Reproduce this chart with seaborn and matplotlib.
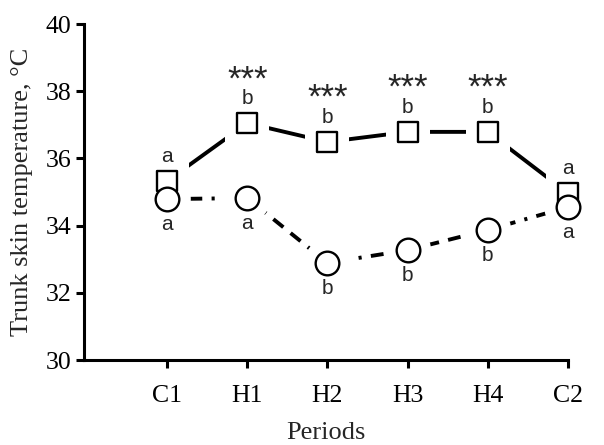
import numpy as np
import matplotlib
matplotlib.use("Agg")
import matplotlib.pyplot as plt
import seaborn as sns

# --- data ---
periods = ["C1", "H1", "H2", "H3", "H4", "C2"]
square_vals = [35.33, 37.05, 36.49, 36.79, 36.79, 34.97]
circle_vals = [34.79, 34.82, 32.89, 33.27, 33.87, 34.55]
square_letters = ["a", "b", "b", "b", "b", "a"]
circle_letters = ["a", "a", "b", "b", "b", "a"]
stars = ["", "***", "***", "***", "***", ""]

sns.set_theme(style="ticks")
plt.rcParams["font.family"] = ["Liberation Serif", "DejaVu Serif"]

fig = plt.figure(figsize=(6.04, 4.45), dpi=100)
ax = fig.add_axes([0.139, 0.191, 0.801, 0.755])

x = np.arange(len(periods))

# lines
sns.lineplot(x=x, y=square_vals, ax=ax, color="black", linewidth=2.8,
             linestyle="-", zorder=1)
sns.lineplot(x=x, y=circle_vals, ax=ax, color="black", linewidth=2.8,
             linestyle=(0, (3.3, 2.4, 3.3, 2.4, 0.8, 2.4)), zorder=1)

# white halo so the lines stop short of the markers
ax.scatter(x, square_vals, marker="s", s=1000, facecolor="white",
           edgecolor="none", zorder=2, clip_on=False)
ax.scatter(x, circle_vals, marker="o", s=1150, facecolor="white",
           edgecolor="none", zorder=2, clip_on=False)

# markers
sns.scatterplot(x=x, y=square_vals, ax=ax, marker="s", s=215, color="white",
                edgecolor="black", linewidth=1.7, zorder=3, clip_on=False)
sns.scatterplot(x=x, y=circle_vals, ax=ax, marker="o", s=290, color="white",
                edgecolor="black", linewidth=1.7, zorder=4, clip_on=False)

# significance letters
for i in range(len(periods)):
    ax.annotate(square_letters[i], (x[i], square_vals[i]), xytext=(0, 17.5),
                textcoords="offset points", ha="center", va="center",
                fontsize=15, family=["Liberation Sans"], zorder=5)
    ax.annotate(circle_letters[i], (x[i], circle_vals[i]), xytext=(0, -18.5),
                textcoords="offset points", ha="center", va="center",
                fontsize=15, family=["Liberation Sans"], zorder=5)
    if stars[i]:
        ax.annotate(stars[i], (x[i], square_vals[i]), xytext=(0, 24.5),
                    textcoords="offset points", ha="center", va="baseline",
                    fontsize=25, family=["Liberation Sans"], zorder=5)

ax.set_xlim(-1.04, 5)
ax.set_ylim(30, 40)
ax.set_yticks([30, 32, 34, 36, 38, 40])
ax.set_xticks(x)
ax.set_xticklabels(periods)
ax.tick_params(axis="both", direction="out", length=6, width=2.2,
               colors="black", labelsize=18.5, pad=3)
ax.tick_params(axis="x", pad=12)
for side in ["top", "right"]:
    ax.spines[side].set_visible(False)
for side in ["left", "bottom"]:
    ax.spines[side].set_linewidth(2.2)
    ax.spines[side].set_color("black")
    ax.spines[side].set_zorder(6)
ax.spines["left"].set_capstyle("projecting")

ax.set_ylabel("Trunk skin temperature, \u00b0C", fontsize=19, labelpad=9)
ax.set_xlabel("Periods", fontsize=19, labelpad=11)
ax.set_facecolor("white")

fig.savefig("out.png", dpi=100, facecolor="white")
